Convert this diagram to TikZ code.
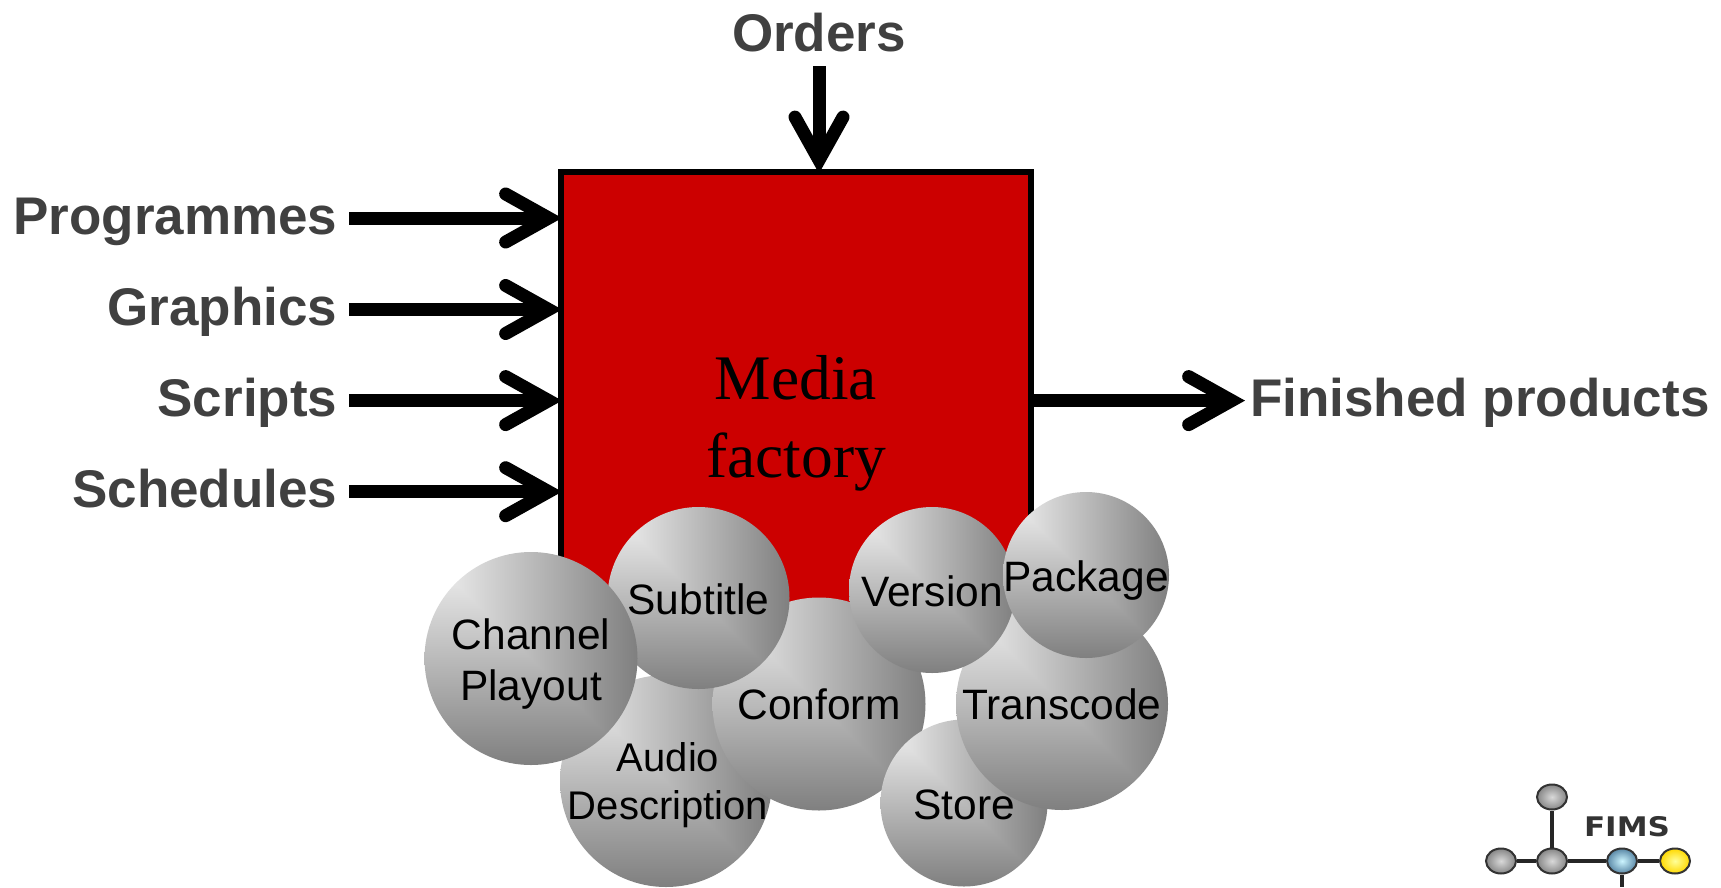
\documentclass[tikz,border=0pt]{standalone}
\usepackage{fontspec}
\setmainfont{Liberation Sans}
\newfontfamily\serifface{Liberation Serif}
\newfontfamily\logoface{DejaVu Sans}
\usetikzlibrary{arrows.meta,shapes.geometric}
\definecolor{factoryred}{HTML}{CC0000}
\definecolor{labelgray}{HTML}{404040}
\pgfdeclarefunctionalshading{ballshade}{\pgfpoint{0bp}{0bp}}{\pgfpoint{100bp}{100bp}}{}{
	25 sub exch 25 sub exch 50 exch sub 2 copy lt {exch} if pop 50 div 0.46 mul 0.96 exch sub dup dup
}
\tikzset{
	flow/.style = {line width=13pt, shorten >=-4pt,
		-{Straight Barb[length=43pt,width=48pt,line width=13pt,line cap=round,line join=miter]}},
	flowlabel/.style = {font=\fontsize{53}{60}\bfseries\selectfont, text=labelgray, inner ysep=0pt,
		text height=42pt, text depth=10pt},
	ball/.style = {circle, inner sep=0pt, shading=ballshade},
	every label/.style = {font=\fontsize{42.5}{51}\selectfont, align=center, inner sep=0pt},
	logoball/.style = {ellipse, minimum width=30pt, minimum height=25pt, inner sep=0pt, draw=black!80, line width=2pt,
		inner color=gray!30, outer color=gray!95}
}
\begin{document}
\begin{tikzpicture}[x=1pt,y=-1pt]
	\useasboundingbox (0,0) rectangle (1721,887);
	\node (factory) [draw, line width=6pt, fill=factoryred, rectangle, minimum width=470pt, minimum height=485.5pt] at (796,415.2) {};
	\node (factorytext) [align=center, font=\fontsize{63.5}{78}\serifface\selectfont] at (796,423) {Media\\factory};
	% inputs and outputs
	\node (programmes) [flowlabel, anchor=east, inner xsep=11.5pt] at (349,218) {Programmes};
	\node (graphics) [flowlabel, anchor=east, inner xsep=11.5pt] at (349,309.5) {Graphics};
	\node (scripts) [flowlabel, anchor=east, inner xsep=11.5pt] at (349,400.6) {Scripts};
	\node (schedules) [flowlabel, anchor=east, inner xsep=11.5pt] at (349,491.7) {Schedules};
	\node (orders) [flowlabel, anchor=south, inner ysep=4.5pt] at (819,66) {Orders};
	\node (finished) [flowlabel, anchor=west, inner xsep=9pt] at (1241,400.6) {Finished products};
	\draw [flow] (programmes.east) -- (programmes.east -| factory.west);
	\draw [flow] (graphics.east) -- (graphics.east -| factory.west);
	\draw [flow] (scripts.east) -- (scripts.east -| factory.west);
	\draw [flow] (schedules.east) -- (schedules.east -| factory.west);
	\draw [flow] (orders.south) -- (orders.south |- factory.north);
	\draw [flow] (finished.west -| factory.east) -- (finished.west);
	% processes, back to front
	\node (audio) [ball, minimum size=212pt, label={[font=\fontsize{40}{48}\selectfont,yshift=-4.5pt,xshift=2pt]center:Audio\\Description}] at (666,781) {};
	\node (conform) [ball, minimum size=213pt, label=center:Conform] at (819,704) {};
	\node (store) [ball, minimum size=167pt, label={[yshift=-2pt]center:Store}] at (964,803) {};
	\node (transcode) [ball, minimum size=212pt, label=center:Transcode] at (1062,704) {};
	\node (version) [ball, minimum size=166pt, label={[yshift=-1pt]center:Version}] at (932,590) {};
	\node (package) [ball, minimum size=166pt, label={[yshift=-5.5pt]center:Package}] at (1086,575) {};
	\node (subtitle) [ball, minimum size=182pt, label={[yshift=-1pt]center:Subtitle}] at (698.5,598) {};
	\node (channel) [ball, minimum size=213pt, label={[yshift=-5.5pt]center:Channel\\Playout}] at (531,658.5) {};
	% logo
	\coordinate (logoend) at (1622,887);
	\node (logotop) [logoball] at (1552,797) {};
	\node (logoleft) [logoball] at (1501,861) {};
	\node (logomid) [logoball] at (1552,861) {};
	\node (logoblue) [logoball, inner color=blue!20!cyan!20!white, outer color=blue!40!cyan!30!gray] at (1622,861) {};
	\node (logoyellow) [logoball, inner color=yellow!40, outer color=yellow!70!orange] at (1675,861) {};
	\draw [line width=4pt, black!85] (logotop) -- (logomid) (logoleft) -- (logomid) -- (logoblue) -- (logoyellow) (logoblue) -- (logoend);
	\node (logotext) [font=\fontsize{27}{30}\logoface\bfseries\selectfont, text=black!80, xscale=1.15, inner sep=0pt] at (1627,827) {FIMS};
\end{tikzpicture}
\end{document}
